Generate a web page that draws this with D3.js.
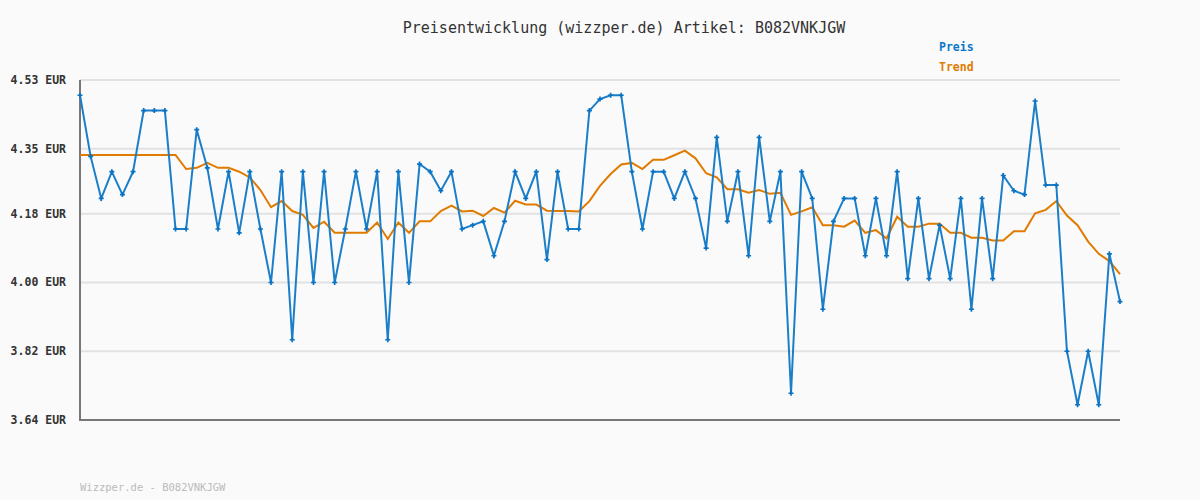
<!DOCTYPE html>
<html><head><meta charset="utf-8">
<script src="https://cdn.jsdelivr.net/npm/d3@7"></script>
<style>body{margin:0;background:#fafafa}svg{display:block}text{font-family:"DejaVu Sans Mono",monospace}</style>
</head><body>
<svg width="1200" height="500"></svg>
<script>
const title = "Preisentwicklung (wizzper.de) Artikel: B082VNKJGW";
const footer = "Wizzper.de - B082VNKJGW";
const tickValues = [4.53, 4.35, 4.18, 4.00, 3.82, 3.64];
const tickLabels = ["4.53 EUR","4.35 EUR","4.18 EUR","4.00 EUR","3.82 EUR","3.64 EUR"];
const preis = [4.49,4.33,4.22,4.29,4.23,4.29,4.45,4.45,4.45,4.14,4.14,4.40,4.30,4.14,4.29,4.13,4.29,4.14,4.00,4.29,
3.85,4.29,4.00,4.29,4.00,4.14,4.29,4.14,4.29,3.85,4.29,4.00,4.31,4.29,4.24,4.29,4.14,4.15,4.16,4.07,
4.16,4.29,4.22,4.29,4.06,4.29,4.14,4.14,4.45,4.48,4.49,4.49,4.29,4.14,4.29,4.29,4.22,4.29,4.22,4.09,
4.38,4.16,4.29,4.07,4.38,4.16,4.29,3.71,4.29,4.22,3.93,4.16,4.22,4.22,4.07,4.22,4.07,4.29,4.01,4.22,
4.01,4.15,4.01,4.22,3.93,4.22,4.01,4.28,4.24,4.23,4.475,4.255,4.255,3.82,3.68,3.82,3.68,4.075,3.95];
const trend = [4.334,4.334,4.334,4.334,4.334,4.334,4.334,4.334,4.334,4.334,4.297,4.30,4.313,4.30,4.30,4.29,4.275,4.242,4.197,4.213,
4.187,4.177,4.143,4.159,4.13,4.13,4.13,4.13,4.157,4.114,4.157,4.13,4.16,4.16,4.187,4.201,4.186,4.188,4.174,4.195,
4.183,4.214,4.204,4.204,4.188,4.187,4.187,4.186,4.213,4.253,4.284,4.309,4.313,4.297,4.321,4.321,4.333,4.345,4.325,4.286,
4.275,4.244,4.244,4.235,4.242,4.232,4.235,4.177,4.186,4.197,4.150,4.150,4.146,4.162,4.13,4.137,4.115,4.172,4.146,4.146,
4.154,4.154,4.13,4.13,4.117,4.117,4.11,4.11,4.134,4.134,4.181,4.19,4.213,4.175,4.15,4.107,4.075,4.056,4.022];

const svg = d3.select("svg");
const x = d3.scaleLinear().domain([0, preis.length-1]).range([80,1120]);
const y = d3.scaleLinear().domain([3.64,4.53]).range([420,80]);

svg.append("g").selectAll("line").data(tickValues).join("line")
  .attr("x1",80).attr("x2",1120).attr("y1",d=>y(d)).attr("y2",d=>y(d))
  .attr("stroke","#e2e2e2").attr("stroke-width",2);
svg.append("g").selectAll("text").data(tickValues).join("text")
  .attr("x",66).attr("y",d=>y(d)+4).attr("text-anchor","end")
  .attr("font-size",11.5).attr("font-weight","bold").attr("fill","#333")
  .text((d,i)=>tickLabels[i]);
svg.append("line").attr("x1",80).attr("x2",80).attr("y1",80).attr("y2",420).attr("stroke","#777").attr("stroke-width",2);
svg.append("line").attr("x1",79).attr("x2",1120).attr("y1",420).attr("y2",420).attr("stroke","#777").attr("stroke-width",2);

const line = d3.line().x((d,i)=>x(i)).y(d=>y(d));
svg.append("path").datum(trend).attr("d",line).attr("fill","none").attr("stroke","#e07b00").attr("stroke-width",2);
svg.append("path").datum(preis).attr("d",line).attr("fill","none").attr("stroke","#1a7fc8").attr("stroke-width",2);
svg.append("g").selectAll("path").data(preis).join("path")
  .attr("d",d3.symbol(d3.symbolCross,14)).attr("transform",(d,i)=>`translate(${x(i)},${y(d)})`)
  .attr("fill","#0a72c2");

svg.append("text").attr("x",624).attr("y",33).attr("text-anchor","middle").attr("font-size",15).attr("fill","#333").text(title);
svg.append("text").attr("x",939).attr("y",51).attr("font-size",11.5).attr("font-weight","bold").attr("fill","#0a78c8").text("Preis");
svg.append("text").attr("x",939).attr("y",71).attr("font-size",11.5).attr("font-weight","bold").attr("fill","#e07b00").text("Trend");
svg.append("text").attr("x",80).attr("y",491).attr("font-size",10.5).attr("fill","#bbb").text(footer);
</script></body></html>
